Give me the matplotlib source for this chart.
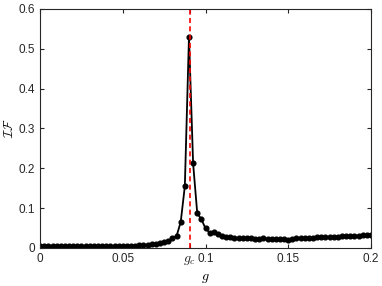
import numpy as np
from matplotlib import pyplot as plt

plt.rcParams['font.family'] = ['Liberation Sans', 'DejaVu Sans']
plt.rcParams['mathtext.fontset'] = 'cm'

g_c = 0.0905

g = np.arange(81) * 0.0025
fidelity = [
    0.004, 0.004, 0.004, 0.004, 0.004, 0.004, 0.004, 0.004, 0.004, 0.004,
    0.004, 0.004, 0.0042, 0.0042, 0.0043, 0.0044, 0.0045, 0.0046, 0.0047, 0.0048,
    0.005, 0.0052, 0.0055, 0.006, 0.0065, 0.007, 0.0078, 0.0088, 0.010, 0.012,
    0.015, 0.018, 0.024, 0.030, 0.065, 0.155, 0.530, 0.212, 0.087, 0.072,
    0.049, 0.038, 0.040, 0.034, 0.030, 0.028, 0.027, 0.026, 0.025, 0.024,
    0.024, 0.024, 0.023, 0.023, 0.024, 0.023, 0.023, 0.022, 0.023, 0.022,
    0.021, 0.022, 0.024, 0.025, 0.025, 0.026, 0.026, 0.027, 0.027, 0.028,
    0.027, 0.028, 0.028, 0.029, 0.029, 0.030, 0.031, 0.031, 0.032, 0.032,
    0.032,
]

tick_pos = [0, 0.05, g_c, 0.1, 0.15, 0.2]
tick_labels = ['0', '0.05', '$g_c$', '0.1', '0.15', '0.2']

fig = plt.figure(figsize=(3.82, 2.86), dpi=100)
ax = fig.add_axes([0.105, 0.133, 0.866, 0.836])

ax.plot(g, fidelity, color='k', linewidth=1.3, marker='o', markersize=3.4)
ax.axvline(g_c, color='r', linewidth=1.2, dashes=(3, 2))

ax.set_xlim(0, 0.2)
ax.set_ylim(0, 0.6)
ax.set_xticks(tick_pos)
ax.set_xticklabels(tick_labels)
ax.set_yticks(np.arange(0, 0.61, 0.1))
ax.set_yticklabels(['0', '0.1', '0.2', '0.3', '0.4', '0.5', '0.6'])
for s in ax.spines.values():
    s.set_color('0.15')
ax.tick_params(direction='in', length=3, labelsize=8.5, colors='0.15',
               top=True, right=True)
ax.get_xticklabels()[2].set_fontsize(10)
ax.set_xlabel('$g$', fontsize=10, labelpad=3)
ax.set_ylabel(r'$\mathcal{IF}$', fontsize=9, labelpad=2)

plt.savefig('out.png', dpi=100)
